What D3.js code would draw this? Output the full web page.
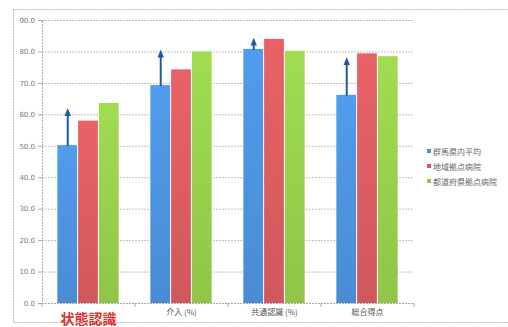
<!DOCTYPE html>
<html><head><meta charset="utf-8">
<script src="https://cdn.jsdelivr.net/npm/d3@7"></script>
<style>body{margin:0;background:#fff}svg{display:block}</style>
</head><body>
<script>
const categories = ["状態認識", "介入 (%)", "共通認識 (%)", "総合得点"];
const seriesNames = ["群馬県内平均", "地域拠点病院", "都道府県拠点病院"];
const gunmaAvg = [50.2, 69.3, 80.8, 66.2];
const regional = [58.0, 74.3, 84.0, 79.4];
const prefectural = [63.6, 80.0, 80.2, 78.5];
const arrowTargets = [62.0, 80.6, 84.4, 78.2];
const yTicks = [0, 10, 20, 30, 40, 50, 60, 70, 80, 90];
const colors = ["#4a8fd8", "#d45a5e", "#93c94a"];
const series = [gunmaAvg, regional, prefectural];

const W = 508, H = 327;
const svg = d3.select("body").append("svg").attr("width", W).attr("height", H);
const defs = svg.append("defs");
colors.forEach((c, i) => {
  const g = defs.append("linearGradient").attr("id", "g" + i).attr("x1", 0).attr("x2", 0).attr("y1", 0).attr("y2", 1);
  g.append("stop").attr("offset", "0%").attr("stop-color", d3.color(c).brighter(0.25));
  g.append("stop").attr("offset", "100%").attr("stop-color", d3.color(c).darker(0.05));
});
const mk = defs.append("marker").attr("id", "ah").attr("viewBox", "0 0 10 10").attr("refX", 5).attr("refY", 5)
  .attr("markerWidth", 4).attr("markerHeight", 4).attr("orient", "auto");
mk.append("path").attr("d", "M0,1 L10,5 L0,9 Z").attr("fill", "#1c5c9a");

// frame
svg.append("rect").attr("x", 13.5).attr("y", 9.5).attr("width", 520).attr("height", 313)
  .attr("fill", "none").attr("stroke", "#9cc0dc").attr("stroke-dasharray", "2,1");

const x0 = 42, x1 = 414;
const x = d3.scaleBand().domain(categories).range([x0, x1]).paddingInner(0.33).paddingOuter(0.165);
const xs = d3.scaleBand().domain([0, 1, 2]).range([0, x.bandwidth()]);
const y = d3.scaleLinear().domain([0, 90]).range([303, 20]);

// gridlines
svg.append("g").selectAll("line").data(yTicks.filter(d => d > 0)).join("line")
  .attr("x1", x0).attr("x2", x1).attr("y1", d => y(d) + 0.5).attr("y2", d => y(d) + 0.5)
  .attr("stroke", "#c2c2c2").attr("stroke-dasharray", "2,1");

// y axis
const ya = svg.append("g").attr("transform", `translate(${x0},0)`)
  .call(d3.axisLeft(y).tickValues(yTicks).tickFormat(d3.format(".1f")).tickSize(4).tickPadding(3));
ya.select(".domain").attr("stroke", "#aaa").attr("stroke-dasharray", "2,1");
ya.selectAll(".tick line").attr("stroke", "#aaa");
ya.selectAll("text").attr("fill", "#777").style("font-family", "DejaVu Sans").style("font-size", "7px");

// x axis
const step = x.step();
svg.append("line").attr("x1", x0).attr("x2", x1).attr("y1", 303.5).attr("y2", 303.5).attr("stroke", "#aaa").attr("stroke-dasharray", "2,1");
svg.append("g").selectAll("line").data(d3.range(categories.length + 1)).join("line")
  .attr("x1", i => x0 + i * step).attr("x2", i => x0 + i * step).attr("y1", 303).attr("y2", 307).attr("stroke", "#aaa");

// bars
const grp = svg.append("g").selectAll("g").data(categories).join("g")
  .attr("transform", d => `translate(${x(d)},0)`);
grp.selectAll("rect").data((d, i) => series.map((s, k) => ({k, v: s[i]}))).join("rect")
  .attr("x", d => xs(d.k)).attr("width", xs.bandwidth() - 1)
  .attr("y", d => y(d.v)).attr("height", d => 303 - y(d.v))
  .attr("fill", d => `url(#g${d.k})`);

// arrows
svg.append("g").selectAll("line").data(categories).join("line")
  .attr("x1", d => x(d) + xs(0) + xs.bandwidth() / 2)
  .attr("x2", d => x(d) + xs(0) + xs.bandwidth() / 2)
  .attr("y1", (d, i) => y(gunmaAvg[i]) + 1)
  .attr("y2", (d, i) => y(arrowTargets[i]) + 4)
  .attr("stroke", "#1c5c9a").attr("stroke-width", 2).attr("marker-end", "url(#ah)");

// category labels
svg.append("g").selectAll("text").data(categories).join("text")
  .attr("x", d => x(d) + x.bandwidth() / 2)
  .attr("y", (d, i) => i === 0 ? 324 : 315)
  .attr("text-anchor", "middle")
  .attr("fill", (d, i) => i === 0 ? "#d8322c" : "#555")
  .style("font-family", "Noto Sans CJK JP")
  .style("font-size", (d, i) => i === 0 ? "14px" : "8px")
  .style("font-weight", (d, i) => i === 0 ? "bold" : "normal")
  .text(d => d);

// legend
const lg = svg.append("g").attr("transform", "translate(427,152)");
const li = lg.selectAll("g").data(seriesNames).join("g").attr("transform", (d, i) => `translate(0,${i * 15})`);
li.append("rect").attr("x", 0).attr("y", -3).attr("width", 4).attr("height", 4).attr("fill", (d, i) => colors[i]);
li.append("text").attr("x", 6).attr("y", 2.5).attr("fill", "#666")
  .style("font-family", "Noto Sans CJK JP").style("font-size", "8px").text(d => d);
</script>
</body></html>
